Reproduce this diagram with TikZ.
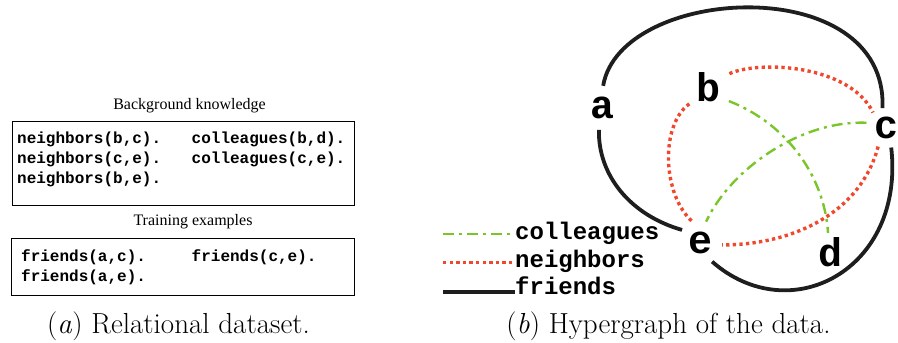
\documentclass[tikz,border=0pt]{standalone}
\usepackage{fontspec}
\newfontfamily\cour{Liberation Mono}
\newfontfamily\tms{Liberation Serif}
\definecolor{colgreen}{RGB}{122,198,42}
\definecolor{nbred}{RGB}{240,72,44}
\definecolor{frblack}{RGB}{30,30,30}
\tikzset{
  friendsline/.style={draw=frblack, line width=3.8pt},
  neighline/.style={draw=nbred, line width=3.4pt, dash pattern=on 3.3pt off 3.3pt},
  collline/.style={draw=colgreen, line width=2.4pt, dash pattern=on 11pt off 5pt on 3pt off 5pt},
  vert/.style={circle, inner sep=0pt, font={\cour\bfseries\fontsize{40}{40}\selectfont}},
  legtext/.style={anchor=base west, inner sep=0pt, font={\cour\bfseries\fontsize{24}{24}\selectfont}},
  fact/.style={anchor=base west, inner sep=0pt, font={\cour\bfseries\fontsize{16}{16}\selectfont}},
  heading/.style={anchor=base, inner sep=0pt, font={\tms\fontsize{16}{16}\selectfont}},
  caption/.style={anchor=base, inner sep=0pt, font={\fontsize{29}{34}\selectfont}},
  box/.style={draw=black, line width=1.1pt}
}
\begin{document}
\begin{tikzpicture}[x=1pt,y=-1pt]
\useasboundingbox (0,0) rectangle (898,343);

% ---------- (a) Relational dataset ----------
\node[heading] (bgk) at (189.5,109) {Background knowledge};
\node[box, minimum width=342pt, minimum height=84pt, anchor=north west, inner sep=0pt] (box1) at (12,121) {};
\node[fact] (n1) at (17,143.5) {neighbors(b,c).};
\node[fact] (n2) at (17,163.5) {neighbors(c,e).};
\node[fact] (n3) at (17,183.5) {neighbors(b,e).};
\node[fact] (c1) at (191.5,143.5) {colleagues(b,d).};
\node[fact] (c2) at (191.5,163.5) {colleagues(c,e).};

\node[heading] (trn) at (193,225) {Training examples};
\node[box, minimum width=343pt, minimum height=57pt, anchor=north west, inner sep=0pt] (box2) at (11,238) {};
\node[fact] (f1) at (21,261.5) {friends(a,c).};
\node[fact] (f2) at (21,281) {friends(a,e).};
\node[fact] (f3) at (191.5,261.5) {friends(c,e).};

\node[caption] (capa) at (178.5,333) {(\textit{a}) Relational dataset.};

% ---------- (b) Hypergraph ----------
\node[vert, minimum size=44pt] (a) at (602,108) {a};
\node[vert, minimum size=50pt] (b) at (708,87) {b};
\node[vert, minimum size=40pt] (c) at (886,128) {c};
\node[vert, minimum size=38pt] (d) at (830,252) {d};
\node[vert, minimum size=44pt] (e) at (700,243) {e};

% friends
\draw[friendsline] (a.87) .. controls (620,-15) and (888,-30) .. (c.100);
\draw[friendsline] (a.262) .. controls (598,175) and (630,215) .. (e.144);
\draw[friendsline] (c.285) .. controls (905,270) and (790,330) .. (e.303);

% neighbors
\draw[neighline] (b.32) .. controls (760,60) and (850,65) .. (c.130);
\draw[neighline] (b.222) .. controls (660,125) and (662,195) .. (e.109);
\draw[neighline] (c.247) .. controls (860,215) and (790,245) .. (e.355);

% colleagues
\draw[collline] (b.326) .. controls (790,125) and (825,180) .. (d.96);
\draw[collline] (c.165) .. controls (800,120) and (730,170) .. (e.74);

% legend
\node[legtext] (lcol) at (515,239.5) {colleagues};
\node[legtext] (lnei) at (515,267) {neighbors};
\node[legtext] (lfri) at (515,294) {friends};
\coordinate (lg1) at (443,234);
\coordinate (lg2) at (443,262.3);
\coordinate (lg3) at (443,291.7);
\draw[collline] (lg1) -- (lg1 -| lcol.west);
\draw[neighline] (lg2) -- (lg2 -| lnei.west);
\draw[friendsline] (lg3) -- (lg3 -| lfri.west);

\node[caption] (capb) at (668.5,333) {(\textit{b}) Hypergraph of the data.};
\end{tikzpicture}
\end{document}
